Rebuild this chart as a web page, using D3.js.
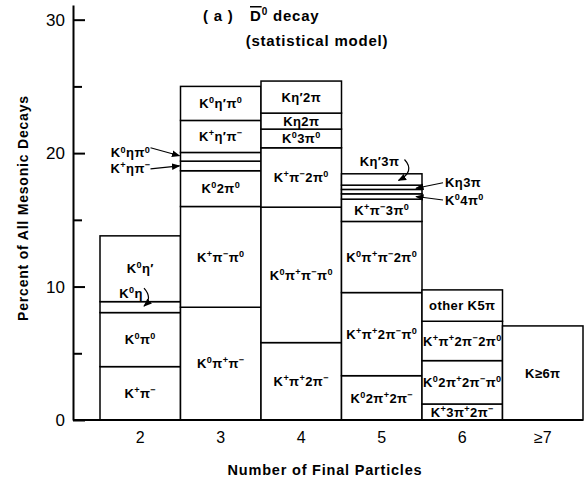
<!DOCTYPE html>
<html>
<head>
<meta charset="utf-8">
<script src="https://cdn.jsdelivr.net/npm/d3@7"></script>
<style>
body { margin: 0; background: #fff; }
svg text { font-family: "Liberation Sans", Arial, sans-serif; fill: #000; }
</style>
</head>
<body>
<svg class="chart"></svg>
<script>
const size = {w: 587, h: 485};

// number of final particles (one column each)
const categories = ['2', '3', '4', '5', '6', '≥7'];

// decay channels per column, bottom to top ("^" marks a superscript)
const channels2 = ['K^+π^−', 'K^0π^0', 'K^0η', 'K^0η′'];
const percents2 = [4.0, 4.05, 0.82, 4.93];

const channels3 = ['K^0π^+π^−', 'K^+π^−π^0', 'K^02π^0', 'K^+ηπ^−', 'K^0ηπ^0', 'K^+η′π^−', 'K^0η′π^0'];
const percents3 = [8.45, 7.55, 2.68, 0.72, 0.65, 2.4, 2.55];

const channels4 = ['K^+π^+2π^−', 'K^0π^+π^−π^0', 'K^+π^−2π^0', 'K^03π^0', 'Kη2π', 'Kη′2π'];
const percents4 = [5.8, 10.15, 4.45, 1.4, 1.2, 2.4];

const channels5 = ['K^02π^+2π^−', 'K^+π^+2π^−π^0', 'K^0π^+π^−2π^0', 'K^+π^−3π^0', 'K^04π^0', '', 'Kη3π', 'Kη′3π'];
const percents5 = [3.32, 6.23, 5.33, 1.67, 0.4, 0.33, 0.32, 0.85];

const channels6 = ['K^+3π^+2π^−', 'K^02π^+2π^−π^0', 'K^+π^+2π^−2π^0', 'other K5π'];
const percents6 = [1.2, 3.25, 2.95, 2.35];

const channels7 = ['K≥6π'];
const percents7 = [7.05];

const yTicks = [0, 10, 20, 30];
const yMinorTicks = [5, 15, 25];

const columns = [
    [channels2, percents2], [channels3, percents3], [channels4, percents4],
    [channels5, percents5], [channels6, percents6], [channels7, percents7]
];

// thin slices get their name outside, with an arrow
// offsets are relative to the slice's left or right edge and its middle
const callouts = {
    'K^0η':    {edge: 'left',  tx: 31,  ty: -14, anchor: 'middle', path: [44, -19, 53, -9, 44, -1]},
    'K^0ηπ^0': {edge: 'left',  tx: -50, ty: -4,  anchor: 'middle', path: [-30, -9, -1, -1]},
    'K^+ηπ^−': {edge: 'left',  tx: -50, ty: 2,   anchor: 'middle', path: [-30, 3, -1, 0]},
    'Kη′3π':   {edge: 'left',  tx: 38,  ty: -18, anchor: 'middle', path: [63, -20, 74, -8, 57, 1]},
    'Kη3π':    {edge: 'right', tx: 23,  ty: -4.5, anchor: 'start', path: [21, -4.5, -6, 1]},
    'K^04π^0': {edge: 'right', tx: 23,  ty: 3.5, anchor: 'start', path: [21, 3.5, -6, 0]}
};

const svg = d3.select('svg.chart')
    .attr('width', size.w)
    .attr('height', size.h);

svg.append('defs').append('marker')
    .attr('id', 'arrow')
    .attr('viewBox', '0 0 10 10')
    .attr('refX', 9).attr('refY', 5)
    .attr('markerWidth', 7).attr('markerHeight', 7)
    .attr('orient', 'auto')
    .append('path')
    .attr('d', 'M0,1L10,5L0,9z')
    .attr('fill', '#000');

const axisX = 73;

const x = d3.scaleBand()
    .domain(categories)
    .range([100, 583])
    .padding(0);

const y = d3.scaleLinear()
    .domain([0, 31.1])
    .range([420, 5]);

// write a label, turning "^c" into a raised small character
function writeLabel(sel, str, fs) {
    const parts = [];
    let i = 0;
    while (i < str.length) {
        if (str[i] === '^') {
            parts.push({t: str[i + 1], sup: true});
            i += 2;
        } else {
            let j = i;
            while (j < str.length && str[j] !== '^') j++;
            parts.push({t: str.slice(i, j), sup: false});
            i = j;
        }
    }
    let shift = 0;
    parts.forEach(p => {
        const target = p.sup ? -fs * 0.38 : 0;
        sel.append('tspan')
            .attr('dy', target - shift)
            .attr('font-size', p.sup ? fs * 0.7 : fs)
            .text(p.t);
        shift = target;
    });
}

// segments
let segments = [];
columns.forEach(([names, vals], ci) => {
    const cum = d3.cumsum(vals);
    vals.forEach((v, i) => {
        segments.push({cat: categories[ci], name: names[i], y0: cum[i] - v, y1: cum[i]});
    });
});

const barG = svg.append('g').classed('bars', true);

barG.selectAll('rect')
    .data(segments)
    .join('rect')
    .attr('x', d => x(d.cat))
    .attr('width', x.bandwidth())
    .attr('y', d => y(d.y1))
    .attr('height', d => y(d.y0) - y(d.y1))
    .attr('fill', '#fff')
    .attr('stroke', '#000')
    .attr('stroke-width', 1.5);

const labelFs = 13;

segments.filter(d => d.name).forEach(d => {
    const mid = (y(d.y0) + y(d.y1)) / 2;
    const c = callouts[d.name];
    const t = barG.append('text')
        .attr('font-weight', 'bold')
        .attr('letter-spacing', 0.4);
    if (!c) {
        t.attr('x', x(d.cat) + x.bandwidth() / 2)
            .attr('y', mid + labelFs * 0.36)
            .attr('text-anchor', 'middle');
    } else {
        const ex = c.edge === 'left' ? x(d.cat) : x(d.cat) + x.bandwidth();
        t.attr('x', ex + c.tx)
            .attr('y', mid + c.ty + labelFs * 0.36)
            .attr('text-anchor', c.anchor);
        const p = c.path;
        const pathD = p.length === 4
            ? `M${ex + p[0]},${mid + p[1]}L${ex + p[2]},${mid + p[3]}`
            : `M${ex + p[0]},${mid + p[1]}Q${ex + p[2]},${mid + p[3]} ${ex + p[4]},${mid + p[5]}`;
        barG.append('path')
            .attr('d', pathD)
            .attr('fill', 'none')
            .attr('stroke', '#000')
            .attr('stroke-width', 1.2)
            .attr('marker-end', 'url(#arrow)');
    }
    writeLabel(t, d.name, labelFs);
});

// y axis, ticks pointing inward
const yAxisG = svg.append('g')
    .attr('transform', `translate(${axisX},0)`)
    .call(d3.axisLeft(y).tickValues(yTicks).tickSizeInner(-12).tickSizeOuter(0).tickPadding(8));
yAxisG.append('g')
    .call(d3.axisLeft(y).tickValues(yMinorTicks).tickSizeInner(-9).tickSizeOuter(0).tickFormat(''))
    .select('.domain').remove();
yAxisG.selectAll('line, path').attr('stroke-width', 2);
yAxisG.selectAll('text').attr('font-size', 17).attr('font-family', '"Liberation Sans", Arial, sans-serif');

// x axis: baseline plus category labels
svg.append('line')
    .attr('x1', axisX).attr('x2', x.range()[1])
    .attr('y1', y(0)).attr('y2', y(0))
    .attr('stroke', '#000')
    .attr('stroke-width', 2);

const xAxisG = svg.append('g')
    .attr('transform', `translate(0,${y(0)})`)
    .call(d3.axisBottom(x).tickSize(0).tickPadding(12));
xAxisG.select('.domain').remove();
xAxisG.selectAll('text').attr('font-size', 16).attr('font-family', '"Liberation Sans", Arial, sans-serif');

// axis titles
svg.append('text')
    .attr('x', 325)
    .attr('y', 475)
    .attr('text-anchor', 'middle')
    .attr('font-size', 14.5)
    .attr('font-weight', 'bold')
    .attr('letter-spacing', 0.8)
    .text('Number of Final Particles');

svg.append('text')
    .attr('transform', 'translate(28,208) rotate(-90)')
    .attr('text-anchor', 'middle')
    .attr('font-size', 14)
    .attr('font-weight', 'bold')
    .attr('letter-spacing', 0.8)
    .text('Percent of All Mesonic Decays');

// title
const title = svg.append('text')
    .attr('x', 203)
    .attr('y', 21)
    .attr('font-size', 15)
    .attr('font-weight', 'bold')
    .attr('letter-spacing', 0.8);
title.append('tspan').text('( a )');
title.append('tspan').attr('x', 250).attr('text-decoration', 'overline').text('D');
title.append('tspan').attr('dy', -6).attr('font-size', 10).text('0');
title.append('tspan').attr('dy', 6).text(' decay');

svg.append('text')
    .attr('x', 317)
    .attr('y', 46)
    .attr('text-anchor', 'middle')
    .attr('font-size', 15)
    .attr('font-weight', 'bold')
    .attr('letter-spacing', 0.8)
    .text('(statistical model)');
</script>
</body>
</html>
